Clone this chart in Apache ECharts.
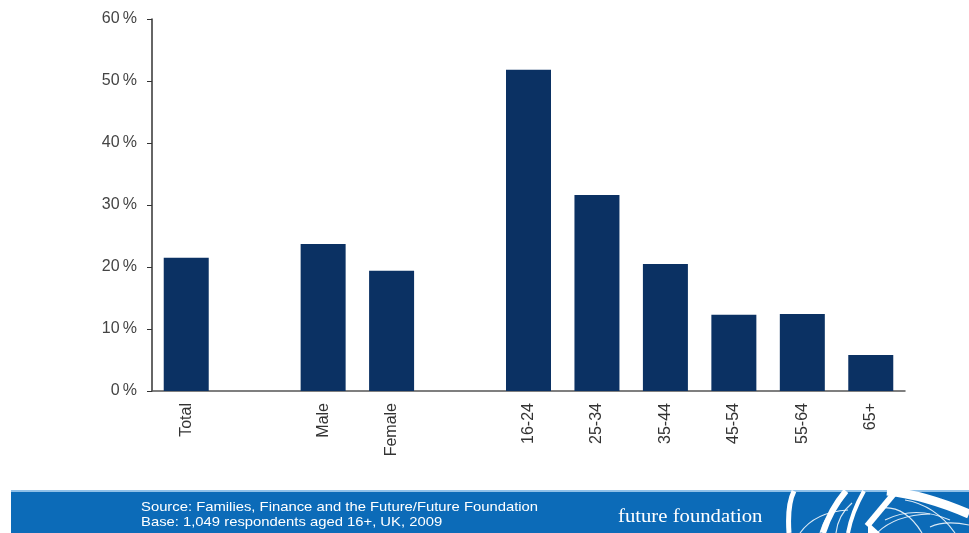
<!DOCTYPE html>
<html>
<head>
<meta charset="utf-8">
<script src="https://cdn.jsdelivr.net/npm/echarts@6/dist/echarts.min.js"></script>
<style>
  html, body { margin: 0; padding: 0; background: #ffffff; }
  #chart { width: 969px; height: 533px; }
</style>
</head>
<body>
<div id="chart"></div>
<script>
// Share of respondents by group; blank slots separate the groups
const categories = ['Total', '', 'Male', 'Female', '', '16-24', '25-34', '35-44', '45-54', '55-64', '65+'];
const shares = [21.5, null, 23.7, 19.4, null, 51.8, 31.6, 20.5, 12.3, 12.4, 5.8];
const yTicks = [0, 10, 20, 30, 40, 50, 60];

const sourceLines = [
  'Source: Families, Finance and the Future/Future Foundation',
  'Base: 1,049 respondents aged 16+, UK, 2009'
];
const brandName = 'future foundation';

const chart = echarts.init(document.getElementById('chart'), null, { renderer: 'canvas' });

const white = '#ffffff';
const stroke = w => ({ stroke: white, fill: 'transparent', lineWidth: w, lineCap: 'butt' });
const thin = () => ({ stroke: 'rgba(255,255,255,0.85)', fill: 'transparent', lineWidth: 1.2 });

// globe emblem at the right end of the footer band
const emblem = [
  // outer rim on the left
  { type: 'bezierCurve', shape: { x1: 794, y1: 491, cpx1: 787, cpy1: 505, x2: 789, y2: 533 }, style: stroke(5) },
  // slanted meridians
  { type: 'bezierCurve', shape: { x1: 823, y1: 533, cpx1: 830, cpy1: 510, x2: 846, y2: 491 }, style: stroke(6) },
  { type: 'bezierCurve', shape: { x1: 848, y1: 533, cpx1: 852, cpy1: 512, x2: 864, y2: 491 }, style: stroke(4) },
  { type: 'line', shape: { x1: 867, y1: 526, x2: 897, y2: 490 }, style: stroke(6) },
  // broad sweep to the right
  { type: 'bezierCurve', shape: { x1: 887, y1: 491, cpx1: 925, cpy1: 495, x2: 969, y2: 514 }, style: stroke(9) },
  { type: 'polygon', shape: { points: [[868, 533], [868, 522], [880, 533]] }, style: { fill: white } },
  // thin latitude and longitude lines
  { type: 'bezierCurve', shape: { x1: 820, y1: 533, cpx1: 825, cpy1: 515, x2: 842, y2: 500 }, style: thin() },
  { type: 'bezierCurve', shape: { x1: 836, y1: 533, cpx1: 838, cpy1: 515, x2: 852, y2: 503 }, style: thin() },
  { type: 'bezierCurve', shape: { x1: 800, y1: 533, cpx1: 815, cpy1: 512, x2: 848, y2: 510 }, style: thin() },
  { type: 'bezierCurve', shape: { x1: 877, y1: 533, cpx1: 895, cpy1: 515, x2: 930, y2: 514 }, style: thin() },
  { type: 'bezierCurve', shape: { x1: 885, y1: 520, cpx1: 915, cpy1: 505, x2: 950, y2: 520 }, style: thin() },
  { type: 'bezierCurve', shape: { x1: 905, y1: 500, cpx1: 935, cpy1: 505, x2: 955, y2: 533 }, style: thin() },
  { type: 'bezierCurve', shape: { x1: 880, y1: 508, cpx1: 905, cpy1: 505, x2: 922, y2: 533 }, style: thin() },
  { type: 'bezierCurve', shape: { x1: 930, y1: 527, cpx1: 945, cpy1: 520, x2: 969, y2: 525 }, style: thin() }
].map(el => Object.assign({ z: 5 }, el));

chart.setOption({
  animation: false,
  grid: { left: 152, right: 64, top: 19, bottom: 142 },
  xAxis: {
    type: 'category',
    data: categories,
    axisLine: { show: true, lineStyle: { color: '#555555', width: 1.5 } },
    axisTick: { show: false },
    axisLabel: {
      rotate: 90,
      margin: 12,
      fontFamily: 'Liberation Sans, Arial, sans-serif',
      fontSize: 16,
      color: '#333333',
      interval: 0
    }
  },
  yAxis: {
    type: 'value',
    min: yTicks[0],
    max: yTicks[yTicks.length - 1],
    interval: 10,
    splitLine: { show: false },
    axisLine: { show: true, lineStyle: { color: '#333333', width: 1.5 } },
    axisTick: { show: true, length: 5, lineStyle: { color: '#333333' } },
    axisLabel: {
      margin: 15,
      fontFamily: 'Liberation Sans, Arial, sans-serif',
      fontSize: 16,
      color: '#444444',
      formatter: v => v + '\u2009%'
    }
  },
  series: [{
    type: 'bar',
    data: shares,
    barWidth: 45,
    itemStyle: { color: '#0b3163' }
  }],
  graphic: [
    // footer band
    { type: 'rect', left: 11, top: 490, z: 1, shape: { width: 958, height: 2 }, style: { fill: '#8fc0e8' } },
    { type: 'rect', left: 11, top: 492, z: 1, shape: { width: 958, height: 41 }, style: { fill: '#0c6bb8' } },
    {
      type: 'text', x: 141, y: 500, z: 2, scaleX: 1.14,
      style: {
        text: sourceLines.join('\n'),
        fill: white,
        font: '13px "Liberation Sans", Arial, sans-serif',
        lineHeight: 15
      }
    },
    {
      type: 'text', x: 618, y: 508, z: 2, scaleX: 1.09,
      style: {
        text: brandName,
        fill: white,
        font: '19px "Liberation Serif", "DejaVu Serif", serif'
      }
    }
  ].concat(emblem)
});
</script>
</body>
</html>
